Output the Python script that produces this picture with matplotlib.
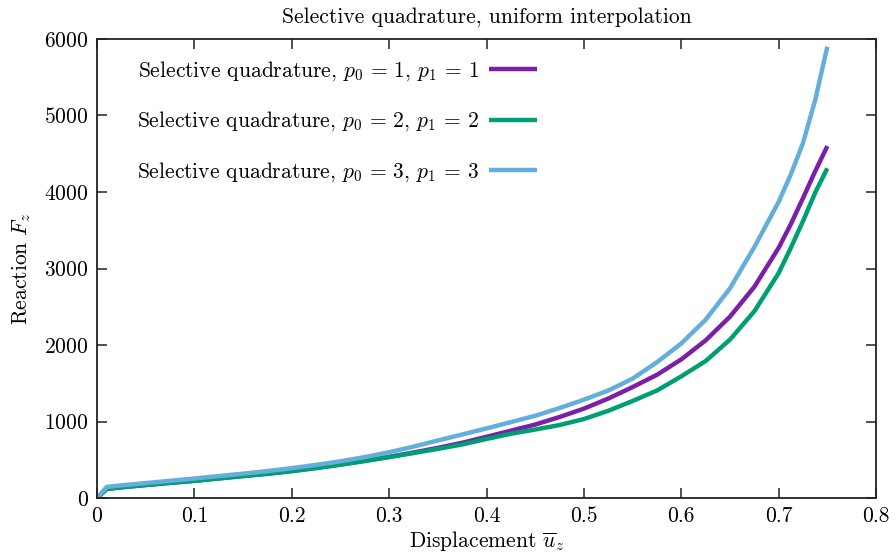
import matplotlib
matplotlib.use("Agg")
from matplotlib import pyplot as plt, rcParams

rcParams['font.family'] = ['cmr10', 'DejaVu Serif']
rcParams['mathtext.fontset'] = 'cm'
rcParams['axes.formatter.use_mathtext'] = True
rcParams['axes.unicode_minus'] = False
rcParams['font.size'] = 15.5

# displacement steps and reaction force for each quadrature order
u = [0.0, 0.01, 0.025, 0.05, 0.075, 0.1, 0.125, 0.15, 0.175, 0.2, 0.225,
     0.25, 0.275, 0.3, 0.325, 0.35, 0.375, 0.4, 0.425, 0.45, 0.475, 0.5,
     0.525, 0.55, 0.575, 0.6, 0.625, 0.65, 0.675, 0.7, 0.7125, 0.725,
     0.7375, 0.75]
f_p1 = [0, 120, 140, 170, 198, 225, 257, 290, 320, 355, 395,
        440, 488, 538, 595, 655, 722, 800, 880, 960, 1059, 1168,
        1300, 1450, 1610, 1812, 2060, 2370, 2760, 3270, 3580, 3920,
        4270, 4600]
f_p2 = [0, 120, 140, 170, 198, 225, 255, 285, 315, 350, 390,
        435, 483, 535, 588, 642, 700, 772, 840, 895, 954, 1032,
        1140, 1268, 1405, 1590, 1790, 2070, 2440, 2940, 3270, 3620,
        3990, 4310]
f_p3 = [0, 145, 165, 195, 225, 255, 287, 318, 352, 390, 433,
        480, 535, 598, 672, 752, 830, 910, 992, 1075, 1176, 1285,
        1405, 1560, 1775, 2020, 2330, 2740, 3280, 3870, 4230, 4640,
        5200, 5900]

labels = [r'Selective quadrature, $p_0\,=\,1$, $p_1\,=\,1$',
          r'Selective quadrature, $p_0\,=\,2$, $p_1\,=\,2$',
          r'Selective quadrature, $p_0\,=\,3$, $p_1\,=\,3$']
colors = ['#7b1fa9', '#009e73', '#63aedb']

fig = plt.figure(figsize=(8.96, 5.57), dpi=100)
ax = fig.add_axes([0.1083, 0.1059, 0.8694, 0.8241])

for f, lab, c in zip([f_p1, f_p2, f_p3], labels, colors):
    ax.plot(u, f, color=c, linewidth=3.2, label=lab,
            solid_capstyle='butt', solid_joinstyle='round')

ax.set_xlim(0, 0.8)
ax.set_ylim(0, 6000)
ax.set_xticks([0, 0.1, 0.2, 0.3, 0.4, 0.5, 0.6, 0.7, 0.8])
ax.set_xticklabels(['0', '0.1', '0.2', '0.3', '0.4', '0.5', '0.6', '0.7', '0.8'])
ax.set_yticks(range(0, 6001, 1000))
ax.tick_params(direction='in', top=True, right=True, length=7, width=1.1,
               color='#222222', pad=6)
for s in ax.spines.values():
    s.set_linewidth(1.3)
    s.set_color('#222222')

ax.set_xlabel(r'Displacement $\overline{u}_z$', labelpad=2)
ax.set_ylabel(r'Reaction $F_z$', labelpad=8)
ax.set_title('Selective quadrature, uniform interpolation', fontsize=15.5, pad=12)

ax.legend(loc='upper left', bbox_to_anchor=(0.04, 0.975), frameon=False,
          markerfirst=False, handlelength=2.2, labelspacing=1.25,
          handletextpad=0.5, borderaxespad=0)

plt.savefig('out.png', dpi=100)
